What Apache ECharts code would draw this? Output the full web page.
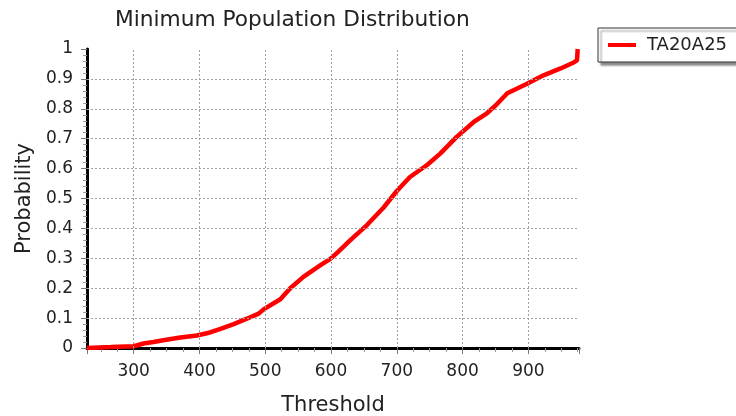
<!DOCTYPE html>
<html>
<head>
<meta charset="utf-8">
<script src="https://cdn.jsdelivr.net/npm/echarts@6/dist/echarts.min.js"></script>
<style>
html,body{margin:0;padding:0;background:#fff;}
#c{width:736px;height:416px;}
</style>
</head>
<body>
<div id="c"></div>
<script>
const titleText = 'Minimum Population Distribution';
const seriesName = 'TA20A25';
const xName = 'Threshold';
const yName = 'Probability';
const thresholds = [229, 265, 300, 315, 330, 345, 371, 396, 416, 432, 452, 472, 490, 498, 523, 538, 558, 584, 599, 610, 629, 655, 680, 700, 720, 746, 766, 791, 817, 837, 852, 868, 898, 923, 949, 969, 974, 975];
const probabilities = [0, 0.003, 0.006, 0.015, 0.02, 0.026, 0.035, 0.042, 0.052, 0.064, 0.08, 0.098, 0.115, 0.13, 0.163, 0.2, 0.238, 0.277, 0.298, 0.32, 0.36, 0.412, 0.47, 0.525, 0.572, 0.612, 0.65, 0.706, 0.756, 0.785, 0.815, 0.852, 0.884, 0.912, 0.935, 0.955, 0.962, 1.0];
const xGridTicks = [300, 400, 500, 600, 700, 800, 900];
const yGridTicks = [0.1, 0.2, 0.3, 0.4, 0.5, 0.6, 0.7, 0.8, 0.9];

const FONT = 'DejaVu Sans';
const TXT = '#222';
const chart = echarts.init(document.getElementById('c'), null, {renderer: 'canvas'});
const gridLine = {color: '#a0a0a0', width: 1, type: [2, 2]};
chart.setOption({
  animation: false,
  backgroundColor: '#fff',
  title: {
    text: titleText,
    left: 110, top: 4,
    textStyle: {fontFamily: FONT, fontSize: 21.7, fontWeight: 'normal', color: TXT}
  },
  legend: {
    left: 598, top: 28,
    padding: [8, 20, 8, 10],
    borderColor: '#333', borderWidth: 1,
    backgroundColor: '#fff',
    shadowColor: 'rgba(0,0,0,0.45)', shadowBlur: 2, shadowOffsetX: 3, shadowOffsetY: 3,
    itemWidth: 28, itemHeight: 4,
    icon: 'rect',
    textStyle: {fontFamily: FONT, fontSize: 18, color: TXT, padding: [0, 0, 0, 6]},
    data: [seriesName]
  },
  grid: {left: 87, right: 157, top: 49, bottom: 68, containLabel: false, outerBoundsMode: 'none'},
  xAxis: {
    type: 'value', min: 229, max: 977, splitNumber: 7,
    name: xName, nameLocation: 'middle', nameGap: 47,
    nameTextStyle: {fontFamily: FONT, fontSize: 21, color: TXT},
    axisLine: {show: true, lineStyle: {color: '#000', width: 3}},
    axisTick: {show: true, length: 6, lineStyle: {color: '#777'}},
    minorTick: {show: true, splitNumber: 4, length: 4, lineStyle: {color: '#999'}},
    axisLabel: {fontFamily: FONT, fontSize: 17, color: TXT, margin: 15, showMinLabel: false, showMaxLabel: false},
    splitLine: {show: false}
  },
  yAxis: {
    type: 'value', min: 0, max: 1, interval: 0.1,
    name: yName, nameLocation: 'middle', nameGap: 48, nameRotate: 90,
    nameTextStyle: {fontFamily: FONT, fontSize: 21, color: TXT},
    axisLine: {show: true, lineStyle: {color: '#000', width: 3}},
    axisTick: {show: true, length: 6, lineStyle: {color: '#777'}},
    minorTick: {show: true, splitNumber: 5, length: 4, lineStyle: {color: '#999'}},
    axisLabel: {fontFamily: FONT, fontSize: 17, color: TXT, margin: 14},
    splitLine: {show: false}
  },
  series: [
    {
      name: 'grid', type: 'line', data: [], z: 1, silent: true,
      legendHoverLink: false,
      markLine: {
        silent: true, symbol: 'none', animation: false,
        label: {show: false},
        lineStyle: gridLine,
        data: xGridTicks.map(v => ({xAxis: v})).concat(yGridTicks.map(v => ({yAxis: v})))
      }
    },
    {
      name: seriesName, type: 'line', z: 3,
      data: thresholds.map((t, i) => [t, probabilities[i]]),
      showSymbol: false, symbol: 'none',
      lineStyle: {color: '#ff0000', width: 4.5},
      itemStyle: {color: '#ff0000'}
    }
  ]
});
</script>
</body>
</html>
